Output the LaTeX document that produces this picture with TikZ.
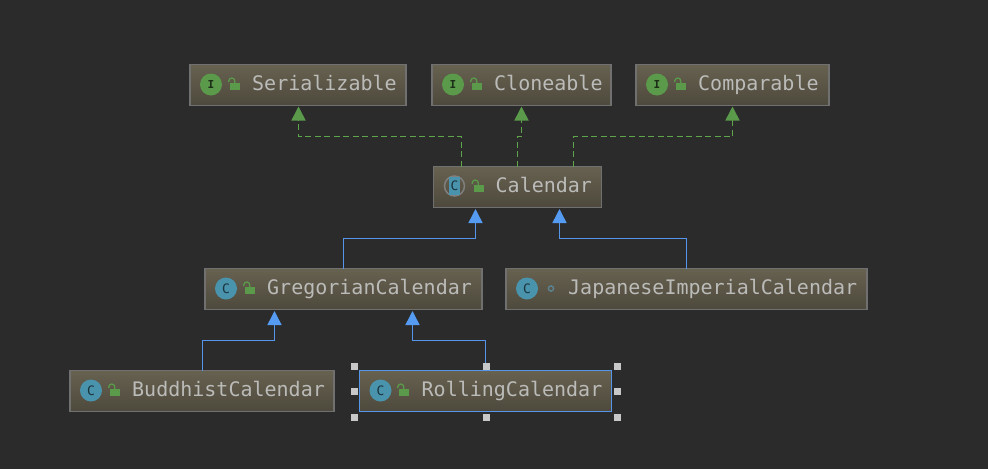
\documentclass[tikz,border=0pt]{standalone}
\usepackage{fontspec}
\setmonofont{DejaVu Sans Mono}
\usetikzlibrary{arrows.meta,calc}
\definecolor{bgc}{HTML}{2B2B2B}
\definecolor{boxtop}{HTML}{676150}
\definecolor{boxbot}{HTML}{4D493C}
\definecolor{boxedge}{HTML}{707070}
\definecolor{txtc}{HTML}{BBBBB9}
\definecolor{grn}{HTML}{5A9A4A}
\definecolor{dgrn}{HTML}{5FA54C}
\definecolor{teal}{HTML}{4A93AD}
\definecolor{blu}{HTML}{559BF2}
\definecolor{blul}{HTML}{5596EA}
\definecolor{hnd}{HTML}{C8C8C8}
\tikzset{
  umlbox/.style={draw=boxedge,line width=1.1pt,top color=boxtop,bottom color=boxbot,inner sep=0pt,outer sep=0pt,minimum height=41pt,anchor=west},
  selbox/.style={umlbox,draw=blul,line width=1.6pt},
  umltext/.style={font=\ttfamily\fontsize{20}{24}\selectfont,text=txtc,inner sep=0pt,anchor=base west},
  iconI/.style={circle,fill=grn,minimum size=22pt,inner sep=0pt,font=\ttfamily\bfseries\fontsize{11}{12}\selectfont,text=black!70!grn},
  iconC/.style={circle,fill=teal,minimum size=22pt,inner sep=0pt,font=\ttfamily\fontsize{13}{14}\selectfont,text=black!65!teal},
  iconA/.style={rectangle,fill=teal,minimum width=11pt,minimum height=18pt,inner sep=0pt,font=\ttfamily\fontsize{13}{14}\selectfont,text=black!65!teal},
  dep/.style={draw=dgrn,line width=1.6pt,dash pattern=on 6pt off 3.5pt,-{Triangle[length=14pt,width=14pt,fill=grn,color=grn]},shorten >=1pt},
  inh/.style={draw=blul,line width=1.5pt,-{Triangle[length=14pt,width=14pt,fill=blu,color=blu]},shorten >=1.5pt},
  handle/.style={fill=hnd,draw=none,minimum size=7pt,inner sep=0pt,rectangle},
}
% name, left x, centre y, width, text, style
\newcommand{\umlnode}[6]{%
  \node[#6] (#1) at (#2,#3) [minimum width=#4pt] {};
  \node[umltext] (#1-t) at ($(#1.west)+(62,5.5)$) {#5};
}
\newcommand{\lockat}[2]{%
  \fill[grn] (#1+2,#2-3) rectangle (#1+12,#2+4);
  \draw[grn,line width=1.3pt] (#1+0.8,#2-4) -- (#1+0.8,#2-5) arc[start angle=180,end angle=360,radius=3] -- (#1+6.8,#2-3);
}
\begin{document}
\begin{tikzpicture}[x=1pt,y=-1pt]
\useasboundingbox (0,0) rectangle (988,469);
\fill[bgc] (0,0) rectangle (988,469);
% boxes
\umlnode{ser}{190}{85}{216}{Serializable}{umlbox}
\umlnode{clo}{432}{85}{179}{Cloneable}{umlbox}
\umlnode{com}{636}{85}{193}{Comparable}{umlbox}
\umlnode{cal}{433.5}{187}{168}{Calendar}{umlbox}
\umlnode{gre}{205}{289}{277}{GregorianCalendar}{umlbox}
\umlnode{jap}{506}{289}{361}{JapaneseImperialCalendar}{umlbox}
\umlnode{bud}{70}{391}{264}{BuddhistCalendar}{umlbox}
\umlnode{rol}{359.5}{391}{252}{RollingCalendar}{selbox}
% icons
\node[iconI] (ser-i) at ($(ser.west)+(21,-0.5)$) {I};
\node[iconI] (clo-i) at ($(clo.west)+(21,-0.5)$) {I};
\node[iconI] (com-i) at ($(com.west)+(21,-0.5)$) {I};
\draw[boxedge!80!txtc,line width=1.5pt] (454.5,186) circle[radius=10];
\node[iconA] (cal-i) at ($(cal.west)+(21,-1)$) {C};
\node[iconC] (gre-i) at ($(gre.west)+(21,-0.5)$) {C};
\node[iconC] (jap-i) at ($(jap.west)+(21,-0.5)$) {C};
\node[iconC] (bud-i) at ($(bud.west)+(21,-0.5)$) {C};
\node[iconC] (rol-i) at ($(rol.west)+(21,-0.5)$) {C};
% locks
\lockat{228}{86}
\lockat{470}{86}
\lockat{674}{86}
\lockat{471.5}{188}
\lockat{243}{290}
\lockat{108}{392}
\lockat{397}{392}
\draw[teal!55!boxedge,line width=1.4pt] (551,288.5) circle[radius=2.6];
% connectors
\draw[dep] ($(cal.north west)+(28,0)$) -- ++(0,-30) -| ($(ser.south)+(0.5,0)$);
\draw[dep] ($(cal.north west)+(84,0)$) -- ++(0,-30) -| (clo.south);
\draw[dep] ($(cal.north west)+(140,0)$) -- ++(0,-30) -| (com.south);
\draw[inh] (gre.north) -- ++(0,-30) -| ($(cal.south west)+(42,0)$);
\draw[inh] (jap.north) -- ++(0,-30) -| ($(cal.south west)+(126,0)$);
\draw[inh] ($(bud.north)+(0.5,0)$) -- ++(0,-30) -| ($(gre.south west)+(69.5,0)$);
\draw[inh] (rol.north) -- ++(0,-30) -| ($(gre.south west)+(207.5,0)$);
% selection handles
\foreach \n/\hx/\hy in {a/354/366,b/486/366,c/617/366,d/354/391,e/617/391,f/354/417,g/486/417,h/617/417}{
  \node[handle] (h\n) at (\hx,\hy) {};
}
\end{tikzpicture}
\end{document}
